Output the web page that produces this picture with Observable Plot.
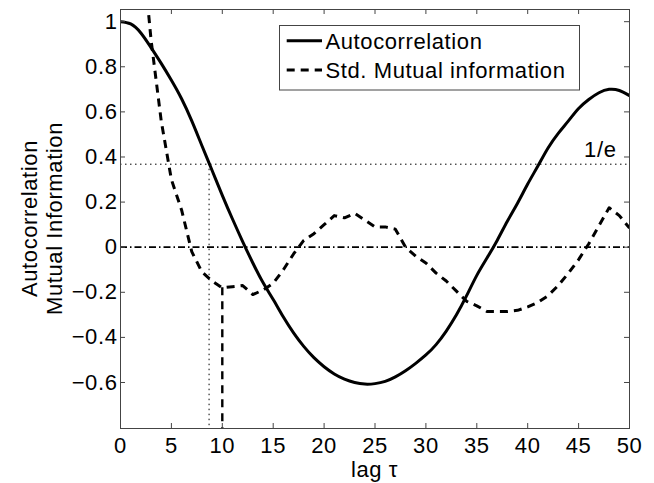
<!DOCTYPE html>
<html><head><meta charset="utf-8">
<script src="https://cdn.jsdelivr.net/npm/d3@7"></script>
<script src="https://cdn.jsdelivr.net/npm/@observablehq/plot@0.6"></script>
<style>
html,body{margin:0;padding:0;background:#fff;}
#chart svg{display:block;}
</style>
</head><body><div id="chart"></div>
<script>
// ---- data ----
const lags = [0,1,2,3,4,5,6,7,8,9,10,11,12,13,14,15,16,17,18,19,20,21,22,23,24,25,26,27,28,29,30,31,32,33,34,35,36,37,38,39,40,41,42,43,44,45,46,47,48,49,50];
const acf = [1.000,0.990,0.950,0.885,0.815,0.740,0.658,0.560,0.450,0.340,0.230,0.125,0.025,-0.070,-0.157,-0.232,-0.310,-0.380,-0.440,-0.490,-0.530,-0.562,-0.585,-0.600,-0.607,-0.605,-0.595,-0.575,-0.548,-0.515,-0.478,-0.432,-0.372,-0.300,-0.215,-0.125,-0.048,0.030,0.115,0.195,0.280,0.360,0.440,0.505,0.560,0.615,0.655,0.685,0.700,0.695,0.672];
const miLags = [2,3,4,5,6,7,8,9,10,11,12,13,14,15,16,17,18,19,20,21,22,23,24,25,26,27,28,29,30,31,32,33,34,35,36,37,38,39,40,41,42,43,44,45,46,47,48,49,50];
const mi = [1.40,0.92,0.56,0.30,0.165,-0.02,-0.11,-0.15,-0.18,-0.175,-0.17,-0.21,-0.19,-0.16,-0.10,-0.03,0.03,0.06,0.10,0.14,0.13,0.15,0.12,0.09,0.09,0.08,0.00,-0.04,-0.07,-0.115,-0.15,-0.195,-0.24,-0.26,-0.285,-0.285,-0.285,-0.28,-0.265,-0.245,-0.215,-0.17,-0.115,-0.055,0.015,0.095,0.175,0.14,0.085];
const xTicks = [0,5,10,15,20,25,30,35,40,45,50];
const yTicks = [-0.6,-0.4,-0.2,0,0.2,0.4,0.6,0.8,1];
const yTickLabels = ["\u22120.6","\u22120.4","\u22120.2","0","0.2","0.4","0.6","0.8","1"];
const invE = 0.368;      // 1/e threshold
const tauAC = 8.7;       // lag where autocorrelation hits 1/e
const tauMI = 10;        // first minimum of mutual information
const seriesNames = ["Autocorrelation","Std. Mutual information"];
const xLabel = "lag \u03c4";
const yLabel = ["Autocorrelation","Mutual Information"];
const eLabel = "1/e";

// ---- layout ----
const W = 654, H = 483, mL = 120, mR = 25, mT = 9, mB = 55;
const fw = W - mL - mR, fh = H - mT - mB;
const xDomain = [0, 50], yDomain = [-0.804, 1.054];
const FONT = "'Liberation Sans', Arial, Helvetica, sans-serif";
const FS = 22;
const axisColor = "#444";
const DASH = "8,6";

const acfData = lags.map((l, i) => ({lag: l, v: acf[i]}));
const miData = miLags.map((l, i) => ({lag: l, v: mi[i]}));
const miAtTau = mi[miLags.indexOf(tauMI)];

const svg = Plot.plot({
  width: W, height: H,
  marginLeft: mL, marginRight: mR, marginTop: mT, marginBottom: mB,
  style: {fontFamily: FONT, fontSize: FS + "px", letterSpacing: "0.6px", background: "#fff", color: "#000"},
  x: {domain: xDomain, axis: null},
  y: {domain: yDomain, axis: null},
  marks: [
    // reference lines
    Plot.ruleY([invE], {stroke: "#000", strokeWidth: 1, strokeDasharray: "1.5,3.5"}),
    Plot.ruleY([0], {stroke: "#000", strokeWidth: 1.8, strokeDasharray: "7,3,1.5,3"}),
    Plot.ruleX([tauAC], {y1: invE, y2: yDomain[0], stroke: "#000", strokeWidth: 1, strokeDasharray: "1.5,3.5"}),
    Plot.ruleX([tauMI], {y1: miAtTau, y2: yDomain[0], stroke: "#000", strokeWidth: 2.4, strokeDasharray: DASH, strokeLinecap: "butt"}),
    // series
    Plot.line(acfData, {x: "lag", y: "v", stroke: "#000", strokeWidth: 3, curve: "natural", clip: true}),
    Plot.line(miData, {x: "lag", y: "v", stroke: "#000", strokeWidth: 3, strokeDasharray: DASH, strokeLinecap: "butt", clip: true}),
    // 1/e label
    Plot.text([eLabel], {frameAnchor: "right", y: invE, text: d => d, textAnchor: "end", lineAnchor: "bottom", dx: -13, dy: -7, fontSize: FS}),
    // frame and inward ticks (MATLAB box)
    Plot.frame({stroke: axisColor, strokeWidth: 1}),
    Plot.tickX(xTicks, {x: d => d, stroke: axisColor, insetTop: fh - 5}),
    Plot.tickX(xTicks, {x: d => d, stroke: axisColor, insetBottom: fh - 5}),
    Plot.tickY(yTicks, {y: d => d, stroke: axisColor, insetRight: fw - 5}),
    Plot.tickY(yTicks, {y: d => d, stroke: axisColor, insetLeft: fw - 5}),
    // tick labels
    Plot.axisX({ticks: xTicks, tickSize: 0, tickPadding: 9, tickFormat: d => String(d), label: null, fontSize: FS}),
    Plot.axisY({ticks: yTicks, tickSize: 0, tickPadding: 3, tickFormat: d => yTickLabels[yTicks.indexOf(d)], label: null, fontSize: FS})
  ]
});

const s = d3.select(svg);
// axis titles
s.append("text").attr("x", mL + fw / 2).attr("y", 477).attr("text-anchor", "middle")
  .attr("font-size", FS).attr("fill", "#000").text(xLabel);
const yl = s.append("text").attr("transform", `translate(0,${mT + fh / 2}) rotate(-90)`)
  .attr("text-anchor", "middle").attr("font-size", FS).attr("fill", "#000");
yl.append("tspan").attr("x", 0).attr("y", 36.5).text(yLabel[0]);
yl.append("tspan").attr("x", 0).attr("y", 61.5).text(yLabel[1]);

// legend
const lg = s.append("g").attr("text-anchor", "start");
lg.append("rect").attr("x", 279.5).attr("y", 25.5).attr("width", 300).attr("height", 64.5)
  .attr("fill", "#fff").attr("stroke", axisColor).attr("stroke-width", 1);
const rows = [{base: 49, line: 40.7, dash: null}, {base: 78.3, line: 70, dash: DASH}];
rows.forEach((r, i) => {
  lg.append("line").attr("x1", 286.7).attr("x2", 322).attr("y1", r.line).attr("y2", r.line)
    .attr("stroke", "#000").attr("stroke-width", 3).attr("stroke-dasharray", r.dash);
  lg.append("text").attr("x", 325.5).attr("y", r.base).attr("text-anchor", "start")
    .attr("font-size", FS).attr("fill", "#000").text(seriesNames[i]);
});

document.getElementById("chart").appendChild(svg);
</script>
</body></html>
